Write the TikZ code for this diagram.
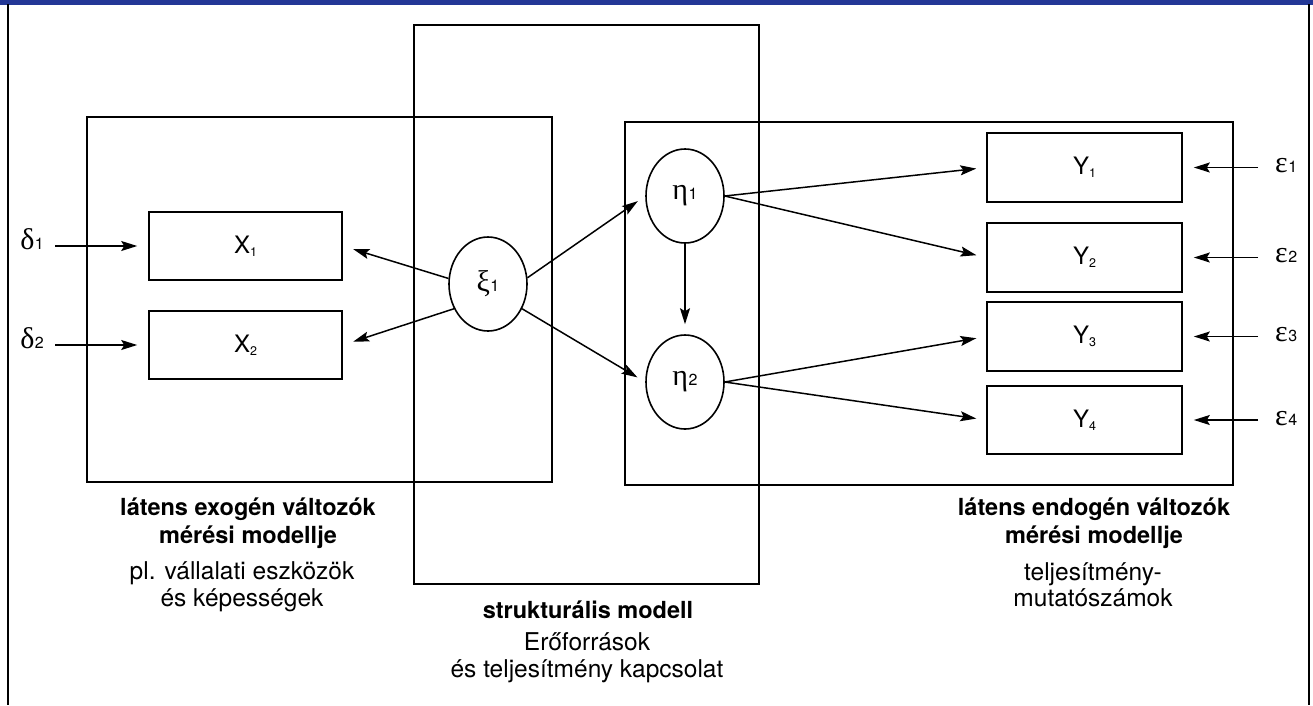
\documentclass[tikz,border=0pt]{standalone}
\usepackage{fontspec}
\setmainfont{TeX Gyre Heros}
\newfontfamily\grk{Liberation Serif}
\usetikzlibrary{arrows.meta,shapes.geometric}
\definecolor{topblue}{RGB}{35,55,150}
\newcommand\lsub[2]{#1\raisebox{-3pt}{\fontsize{12.5}{13}\selectfont #2}}
\newcommand\gsub[2]{{\grk\fontsize{30}{34}\selectfont #1}\kern0.5pt{\fontsize{16}{16}\selectfont #2}}
\begin{document}
\begin{tikzpicture}[x=1pt,y=-1pt,
  box/.style={draw, line width=1.6pt, minimum width=193pt, minimum height=68pt, inner sep=0pt, font=\fontsize{24}{28}\selectfont},
  lat/.style={draw, ellipse, line width=1.6pt, minimum width=78pt, minimum height=94pt, inner sep=0pt},
  arr/.style={line width=1.5pt, -{Stealth[length=16pt,width=10pt,inset=3pt]}},
  frame/.style={line width=1.6pt},
  gl/.style={inner sep=0pt},
  bt/.style={anchor=base, font=\bfseries\fontsize{23.5}{28}\selectfont, inner sep=0pt},
  rt/.style={anchor=base, font=\fontsize{24.5}{28}\selectfont, inner sep=0pt}]
\useasboundingbox (0,0) rectangle (1313,705);
\fill[topblue] (0,0) rectangle (1313,4.5);
\draw[frame] (8,4) -- (8,705);
\draw[frame] (1309,4) -- (1309,705);
% container boxes
\draw[frame] (87,117) rectangle (552,482);
\draw[frame] (414,25) rectangle (759,584);
\draw[frame] (625,122) rectangle (1233,485);
% observed variables
\node[box] (X1) at (245.5,246) {\lsub{X}{1}};
\node[box] (X2) at (245.5,345) {\lsub{X}{2}};
\node[box, minimum width=195pt, minimum height=69pt] (Y1) at (1084.5,167.5) {\lsub{Y}{1}};
\node[box, minimum width=195pt, minimum height=69pt] (Y2) at (1084.5,257.5) {\lsub{Y}{2}};
\node[box, minimum width=195pt, minimum height=69pt] (Y3) at (1084.5,336.5) {\lsub{Y}{3}};
\node[box, minimum width=195pt, minimum height=68pt] (Y4) at (1084.5,420) {\lsub{Y}{4}};
% latent variables
\node[lat] (xi) at (488,284) {\gsub{ξ}{1}};
\node[lat] (eta1) at (685,196) {\gsub{η}{1}};
\node[lat] (eta2) at (685,382) {\gsub{η}{2}};
% error terms
\node[gl, anchor=east] (d1) at (44,239) {\gsub{δ}{1}};
\node[gl, anchor=east] (d2) at (44,338) {\gsub{δ}{2}};
\node[gl, anchor=west] (e1) at (1275,166) {\gsub{ε}{1}};
\node[gl, anchor=west] (e2) at (1275,256) {\gsub{ε}{2}};
\node[gl, anchor=west] (e3) at (1275,335) {\gsub{ε}{3}};
\node[gl, anchor=west] (e4) at (1275,419) {\gsub{ε}{4}};
% arrows
\draw[arr, shorten <=11pt, shorten >=11pt] (d1.east |- X1.west) -- (X1.west);
\draw[arr, shorten <=11pt, shorten >=11pt] (d2.east |- X2.west) -- (X2.west);
\draw[arr, shorten >=11pt] (xi.172) -- (X1.east);
\draw[arr, shorten >=11pt] (xi.216) -- (X2.east);
\draw[arr, shorten >=9pt] (xi.9) -- (eta1.west);
\draw[arr, shorten >=9pt] (xi.-36) -- (eta2.west);
\draw[arr, shorten >=10pt] (eta1.south) -- (eta2.north);
\draw[arr, shorten >=10pt] (eta1.east) -- (Y1.west);
\draw[arr, shorten >=10pt] (eta1.east) -- (Y2.west);
\draw[arr, shorten >=10pt] (eta2.east) -- (Y3.west);
\draw[arr, shorten >=10pt] (eta2.east) -- (Y4.west);
\draw[arr, shorten <=17pt, shorten >=11pt] (e1.west |- Y1.east) -- (Y1.east);
\draw[arr, shorten <=17pt, shorten >=11pt] (e2.west |- Y2.east) -- (Y2.east);
\draw[arr, shorten <=17pt, shorten >=11pt] (e3.west |- Y3.east) -- (Y3.east);
\draw[arr, shorten <=17pt, shorten >=11pt] (e4.west |- Y4.east) -- (Y4.east);
% captions
\node[bt] (l1) at (248,515) {látens exogén változók};
\node[bt] (l2) at (248,543) {mérési modellje};
\node[rt] (l3) at (242,579) {pl. vállalati eszközök};
\node[rt] (l4) at (242,606) {és képességek};
\node[bt] (m1) at (588,618) {strukturális modell};
\node[rt] (m2) at (587,650) {Erőforrások};
\node[rt] (m3) at (587,677) {és teljesítmény kapcsolat};
\node[bt] (r1) at (1094,515) {látens endogén változók};
\node[bt] (r2) at (1094,543) {mérési modellje};
\node[rt] (r3) at (1093,580) {teljesítmény-};
\node[rt] (r4) at (1093,606) {mutatószámok};
\end{tikzpicture}
\end{document}
